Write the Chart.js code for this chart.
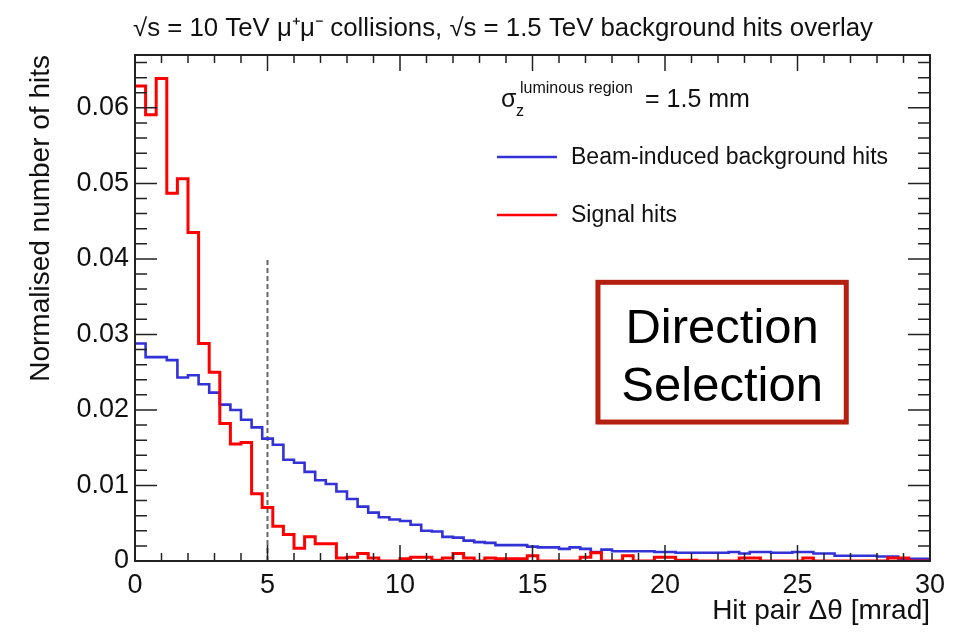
<!DOCTYPE html>
<html>
<head>
<meta charset="utf-8">
<script src="https://cdn.jsdelivr.net/npm/chart.js@4.4.1/dist/chart.umd.min.js"></script>
<style>
  body { margin: 0; background: #fff; }
  canvas { display: block; }
</style>
</head>
<body>
<canvas id="chartHits" width="958" height="636"></canvas>
<script>
// histogram bins: 0.4 mrad wide, 0 - 30 mrad
const binWidth = 0.4
const signalHits = [
  0.0629, 0.0591, 0.0639, 0.0487, 0.0506, 0.0435, 0.0288, 0.0250, 0.0182, 0.0155,
  0.0157, 0.0089, 0.0071, 0.0046, 0.0035, 0.0017, 0.0032, 0.0023, 0.0023, 0.0004,
  0.0005, 0.0010, 0.0004, 0.0000, 0.0000, 0.0003, 0.0005, 0.0005, 0.0001, 0.0004,
  0.0010, 0.0004, 0.0000, 0.0004, 0.0003, 0.0003, 0.0003, 0.0007, 0.0000, 0.0000,
  0.0000, 0.0000, 0.0005, 0.0011, 0.0000, 0.0000, 0.0007, 0.0000, 0.0000, 0.0005,
  0.0005, 0.0001, 0.0001, 0.0000, 0.0000, 0.0000, 0.0000, 0.0004, 0.0004, 0.0000,
  0.0000, 0.0000, 0.0000, 0.0004, 0.0000, 0.0000, 0.0000, 0.0000, 0.0000, 0.0000,
  0.0000, 0.0004, 0.0004, 0.0000, 0.0000
]
const backgroundHits = [
  0.0288, 0.0270, 0.0270, 0.0266, 0.0243, 0.0246, 0.0234, 0.0223, 0.0207, 0.0200,
  0.0187, 0.0177, 0.0162, 0.0154, 0.0134, 0.0130, 0.0118, 0.0107, 0.0102, 0.0092,
  0.0082, 0.0072, 0.0064, 0.0058, 0.0055, 0.0053, 0.0048, 0.0040, 0.0039, 0.0032,
  0.0031, 0.0027, 0.0025, 0.0024, 0.0021, 0.0021, 0.0021, 0.0019, 0.0018, 0.0018,
  0.0016, 0.0018, 0.0016, 0.0012, 0.0015, 0.0013, 0.0013, 0.0013, 0.0013, 0.0012,
  0.0012, 0.0011, 0.0011, 0.0011, 0.0011, 0.0011, 0.0012, 0.0010, 0.0012, 0.0012,
  0.0011, 0.0011, 0.0012, 0.0012, 0.0010, 0.0010, 0.0007, 0.0007, 0.0007, 0.0007,
  0.0006, 0.0006, 0.0003, 0.0003, 0.0003
]
const cutValue = 5        // mrad
const cutLineTop = 0.04
const xMin = 0, xMax = 30
const yMin = 0, yMax = 0.067
const yTickStep = 0.01
const xTickStep = 5

const FONT = '"Liberation Sans", Arial, Helvetica, sans-serif'

// histogram -> step points (left edges + closing edge)
function toSteps(values) {
  const pts = values.map((v, i) => ({ x: i * binWidth, y: v }))
  pts.push({ x: values.length * binWidth, y: values[values.length - 1] })
  return pts
}

const rootStyle = {
  id: 'rootStyle',
  afterDraw(chart) {
    const ctx = chart.ctx
    const { left, right, top, bottom } = chart.chartArea
    const xs = chart.scales.x, ys = chart.scales.y
    ctx.save()

    // frame
    ctx.strokeStyle = '#222'
    ctx.lineWidth = 2
    ctx.strokeRect(left, top, right - left, bottom - top)

    // inner ticks
    ctx.lineWidth = 1.5
    ctx.beginPath()
    for (let k = 0; k * 0.002 <= yMax + 1e-9; k++) {
      const y = ys.getPixelForValue(k * 0.002)
      const len = k % 5 === 0 ? 22 : 12
      ctx.moveTo(left, y); ctx.lineTo(left + len, y)
      ctx.moveTo(right, y); ctx.lineTo(right - len, y)
    }
    for (let k = xMin; k <= xMax; k++) {
      const x = xs.getPixelForValue(k)
      const len = k % 5 === 0 ? 16 : 8
      ctx.moveTo(x, bottom); ctx.lineTo(x, bottom - len)
      ctx.moveTo(x, top); ctx.lineTo(x, top + len)
    }
    ctx.stroke()

    // title (condensed look)
    ctx.fillStyle = '#111'
    ctx.textBaseline = 'alphabetic'
    ctx.font = '25px ' + FONT
    const title = '\u221As = 10 TeV \u03BC\u207A\u03BC\u207B collisions, \u221As = 1.5 TeV background hits overlay'
    const tw = ctx.measureText(title).width
    ctx.save()
    ctx.translate(left - 2, 36)
    ctx.scale(740 / tw, 1)
    ctx.textAlign = 'left'
    ctx.fillText(title, 0, 0)
    ctx.restore()

    // sigma text
    ctx.textAlign = 'left'
    ctx.font = '25px ' + FONT
    ctx.fillText('\u03C3', 501, 107)
    ctx.font = '16px ' + FONT
    ctx.fillText('luminous region', 520, 93)
    ctx.fillText('z', 516, 116)
    ctx.font = '25px ' + FONT
    ctx.fillText('= 1.5 mm', 645, 107)

    // legend
    const entries = [
      { label: 'Beam-induced background hits', color: '#3232d6', y: 157 },
      { label: 'Signal hits', color: '#ff0000', y: 215 }
    ]
    entries.forEach(e => {
      ctx.strokeStyle = e.color
      ctx.lineWidth = 2.5
      ctx.beginPath()
      ctx.moveTo(497, e.y); ctx.lineTo(557, e.y)
      ctx.stroke()
      ctx.fillStyle = '#111'
      ctx.font = '23px ' + FONT
      ctx.textBaseline = 'middle'
      ctx.fillText(e.label, 571, e.y + 1)
    })

    // "Direction Selection" box
    const bx0 = xs.getPixelForValue(17.47), bx1 = xs.getPixelForValue(26.84)
    const by0 = ys.getPixelForValue(0.0369), by1 = ys.getPixelForValue(0.0184)
    ctx.strokeStyle = '#b3200f'
    ctx.lineWidth = 5
    ctx.strokeRect(bx0, by0, bx1 - bx0, by1 - by0)
    ctx.fillStyle = '#000'
    ctx.font = '49px ' + FONT
    ctx.textAlign = 'center'
    ctx.textBaseline = 'alphabetic'
    const cx = (bx0 + bx1) / 2
    ctx.fillText('Direction', cx, by0 + 61)
    ctx.fillText('Selection', cx, by0 + 119)

    ctx.restore()
  }
}

new Chart(document.getElementById('chartHits'), {
  type: 'line',
  data: {
    datasets: [
      {
        label: 'Signal hits',
        data: toSteps(signalHits),
        borderColor: '#ff0000',
        borderWidth: 3,
        stepped: 'before',
        pointRadius: 0,
        fill: false
      },
      {
        label: 'Beam-induced background hits',
        data: toSteps(backgroundHits),
        borderColor: '#3232d6',
        borderWidth: 2.6,
        stepped: 'before',
        pointRadius: 0,
        fill: false
      },
      {
        label: 'cut',
        data: [{ x: cutValue, y: 0 }, { x: cutValue, y: cutLineTop }],
        borderColor: '#666',
        borderWidth: 2,
        borderDash: [5, 3],
        pointRadius: 0,
        fill: false
      }
    ]
  },
  plugins: [rootStyle],
  options: {
    responsive: false,
    animation: false,
    layout: { padding: { top: 55, right: 28, left: 0, bottom: 0 } },
    plugins: {
      legend: { display: false },
      tooltip: { enabled: false }
    },
    scales: {
      x: {
        type: 'linear',
        min: xMin,
        max: xMax,
        grid: { display: false, drawTicks: false },
        border: { display: false },
        ticks: {
          stepSize: xTickStep,
          padding: 8,
          color: '#111',
          font: { family: FONT, size: 27 },
          maxRotation: 0
        },
        title: {
          display: true,
          text: 'Hit pair \u0394\u03B8 [mrad]',
          align: 'end',
          color: '#111',
          font: { family: FONT, size: 28 },
          padding: { top: 0, bottom: 8 }
        },
        afterFit(scale) { scale.height = 75 }
      },
      y: {
        min: yMin,
        max: yMax,
        grid: { display: false, drawTicks: false },
        border: { display: false },
        ticks: {
          stepSize: yTickStep,
          includeBounds: false,
          padding: 6,
          color: '#111',
          font: { family: FONT, size: 27 },
          callback: v => (v === 0 ? '0' : v.toFixed(2))
        },
        title: {
          display: true,
          text: 'Normalised number of hits',
          align: 'end',
          color: '#111',
          font: { family: FONT, size: 28 },
          padding: { top: 24, bottom: 0 }
        },
        afterFit(scale) { scale.width = 135 }
      }
    }
  }
})
</script>
</body>
</html>
